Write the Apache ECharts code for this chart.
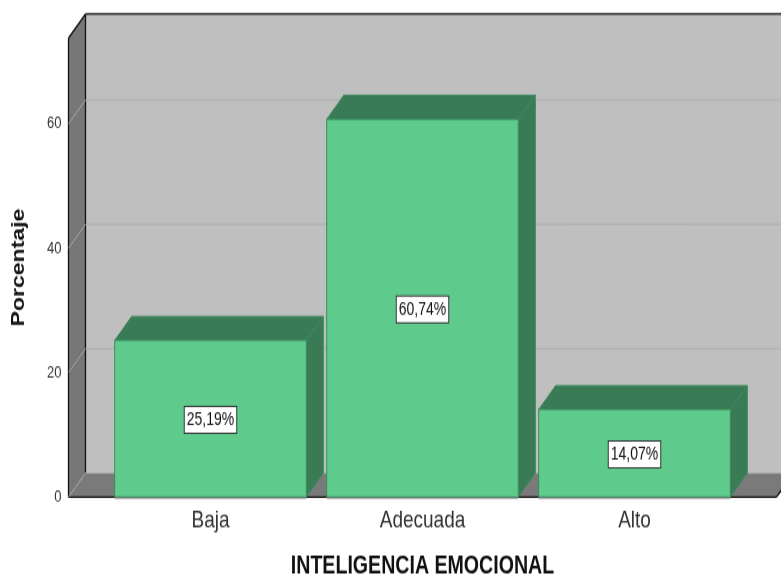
<!DOCTYPE html>
<html>
<head>
<meta charset="utf-8">
<title>Inteligencia emocional</title>
<script src="https://cdn.jsdelivr.net/npm/echarts@6/dist/echarts.min.js"></script>
<style>
html, body { margin: 0; padding: 0; background: #fff; height: 576px; }
/* the source picture is stretched vertically, text included */
#chart { width: 781px; height: 450px; transform: scaleY(1.28); transform-origin: 0 0; }
</style>
</head>
<body>
<div id="chart"></div>
<script>
var categories = ['Baja', 'Adecuada', 'Alto'];
var percentages = [25.19, 60.74, 14.07];
var yTicks = [0, 20, 40, 60];

var yMax = 73.8;
var depthX = 17, depthY = -18.75;   // 3d offset of the back plane
var sideGap = 36;                   // floor sticks out this much past the category bands
var barShare = 0.904;

var chart = echarts.init(document.getElementById('chart'));

function poly(points, fill, stroke, width) {
	return {
		type: 'polygon',
		shape: { points: points },
		style: { fill: fill, stroke: stroke || null, lineWidth: width || 0 }
	};
}

function seg(x1, y1, x2, y2, color, width) {
	return {
		type: 'line',
		shape: { x1: x1, y1: y1, x2: x2, y2: y2 },
		style: { stroke: color, lineWidth: width, fill: null }
	};
}

// walls and floor, worked out from the grid rectangle
function renderWalls(params, api) {
	var cs = params.coordSys;
	var l = cs.x - sideGap, r = cs.x + cs.width + sideGap;
	var t = cs.y, b = cs.y + cs.height;
	var dx = depthX, dy = depthY;
	return {
		type: 'group',
		children: [
			poly([[l + dx, t + dy], [r + dx, t + dy], [r + dx, b + dy], [l + dx, b + dy]], '#bfbfbf'),
			poly([[l, t], [l + dx, t + dy], [l + dx, b + dy], [l, b]], '#777777'),
			poly([[l, b], [l + dx, b + dy], [r + dx, b + dy], [r, b]], '#7a7a7a'),
			seg(l + dx, b + dy, r + dx, b + dy, '#a6a6a6', 1),
			seg(l, t, l, b, '#111', 1.3),
			seg(l, t, l + dx, t + dy, '#111', 1.3),
			seg(l + dx, t + dy, l + dx, b + dy, '#111', 1.3),
			seg(l + dx, t + dy, r + dx, t + dy, '#111', 1.3),
			seg(l, b, r, b, '#111', 1.3),
			seg(r, b, r + dx, b + dy, '#111', 1.3)
		]
	};
}

function renderGrid(params, api) {
	var cs = params.coordSys;
	var y = api.coord([0, api.value(0)])[1];
	var l = cs.x - sideGap, r = cs.x + cs.width + sideGap;
	return {
		type: 'group',
		children: [
			seg(l, y, l + depthX, y + depthY, '#a6a6a6', 1),
			seg(l + depthX, y + depthY, r + depthX, y + depthY, '#adadad', 1)
		]
	};
}

function renderBar(params, api) {
	var idx = api.value(0);
	var val = api.value(1);
	var top = api.coord([idx, val]);
	var base = api.coord([idx, 0]);
	var w = api.size([1, 0])[0] * barShare;
	var x0 = top[0] - w / 2, x1 = top[0] + w / 2;
	var dx = depthX, dy = depthY;
	var edge = '#3f8a5f';
	return {
		type: 'group',
		children: [
			poly([[x1, top[1]], [x1 + dx, top[1] + dy], [x1 + dx, base[1] + dy], [x1, base[1]]], '#387b54', edge, 1),
			poly([[x0, top[1]], [x0 + dx, top[1] + dy], [x1 + dx, top[1] + dy], [x1, top[1]]], '#387b54', edge, 1),
			poly([[x0, top[1]], [x1, top[1]], [x1, base[1]], [x0, base[1]]], '#5ecb8c', edge, 1),
			seg(x0, base[1] + 1, x1, base[1] + 1, '#a6a6a6', 1),
			{
				type: 'text',
				style: {
					text: val.toFixed(2).replace('.', ',') + '%',
					x: top[0],
					y: (top[1] + base[1]) / 2 + 1,
					align: 'center',
					verticalAlign: 'middle',
					fontFamily: 'Liberation Sans',
					fontSize: 14,
					fill: '#111',
					backgroundColor: '#fff',
					borderColor: '#333',
					borderWidth: 1,
					padding: [3, 2, 3, 2]
				}
			}
		]
	};
}

var option = {
	animation: false,
	backgroundColor: '#fff',
	grid: { left: 104.5, width: 636, top: 29.7, height: 358.6, outerBoundsMode: 'none' },
	xAxis: {
		type: 'category',
		data: categories,
		name: 'INTELIGENCIA EMOCIONAL',
		nameLocation: 'middle',
		nameGap: 44,
		nameTextStyle: { fontFamily: 'Liberation Sans', fontSize: 19.6, fontWeight: 'bold', color: '#111' },
		axisLine: { show: false },
		axisTick: { show: false },
		axisLabel: { margin: 9, fontFamily: 'Liberation Sans', fontSize: 19, color: '#333' }
	},
	yAxis: {
		type: 'value',
		min: 0,
		max: yMax,
		interval: 20,
		name: 'Porcentaje',
		nameLocation: 'middle',
		nameGap: 76,
		nameRotate: 90,
		nameTextStyle: { fontFamily: 'Liberation Sans', fontSize: 18, fontWeight: 'bold', color: '#111' },
		axisLine: { show: false },
		axisTick: { show: false },
		splitLine: { show: false },
		axisLabel: { margin: 43, padding: [5, 0, 0, 0], fontFamily: 'Liberation Sans', fontSize: 13, color: '#333', showMaxLabel: false }
	},
	series: [
		{ type: 'custom', coordinateSystem: 'cartesian2d', silent: true, z: 1, renderItem: renderWalls, data: [[0, 0]], encode: { x: 0, y: 1 } },
		{ type: 'custom', coordinateSystem: 'cartesian2d', silent: true, z: 2, renderItem: renderGrid, data: yTicks.map(function (v) { return [v]; }), encode: { y: 0 } },
		{ type: 'custom', coordinateSystem: 'cartesian2d', silent: true, z: 3, renderItem: renderBar, data: percentages.map(function (v, i) { return [i, v]; }), encode: { x: 0, y: 1 } }
	]
};

chart.setOption(option);
</script>
</body>
</html>
